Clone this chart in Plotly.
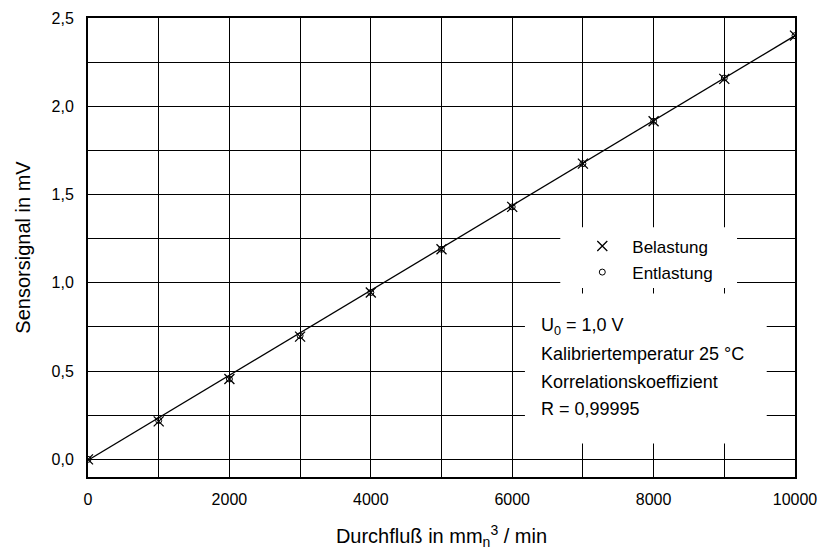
import plotly.graph_objects as go

flow = [0, 1000, 2000, 3000, 4000, 5000, 6000, 7000, 8000, 9000, 10000]
belastung = [0.0, 0.215, 0.455, 0.695, 0.945, 1.19, 1.43, 1.675, 1.915, 2.155, 2.40]
entlastung = [0.0, 0.22, 0.455, 0.70, 0.945, 1.19, 1.43, 1.675, 1.915, 2.16, 2.40]
fit_x = [0, 10000]
fit_y = [-0.005, 2.40]

x_ticks = [0, 2000, 4000, 6000, 8000, 10000]
x_ticktext = ["0", "2000", "4000", "6000", "8000", "10000"]
y_ticks = [0.0, 0.5, 1.0, 1.5, 2.0, 2.5]
y_ticktext = ["0,0", "0,5", "1,0", "1,5", "2,0", "2,5"]

info_lines = ["U<sub>0</sub> = 1,0 V", "Kalibriertemperatur 25 °C",
              "Korrelationskoeffizient", "R = 0,99995"]

FONT = "Liberation Sans, Arial, sans-serif"

fig = go.Figure()
fig.add_trace(go.Scatter(x=fit_x, y=fit_y, mode="lines",
                         line=dict(color="black", width=1.3), showlegend=False))
fig.add_trace(go.Scatter(x=flow, y=belastung, mode="markers", name="Belastung",
                         legendgroup="a",
                         marker=dict(symbol="x-thin", size=10, color="black",
                                     line=dict(color="black", width=1.3))))
fig.add_trace(go.Scatter(x=flow, y=entlastung, mode="markers", name="Entlastung",
                         legendgroup="b",
                         marker=dict(symbol="circle-open", size=6, color="black",
                                     line=dict(color="black", width=1))))

# white boxes behind legend and text
fig.add_shape(type="rect", xref="x", yref="y", x0=6680, x1=9180, y0=0.97, y1=1.315,
              fillcolor="white", line=dict(width=0), layer="between")
fig.add_shape(type="rect", xref="x", yref="y", x0=6180, x1=9600, y0=0.09, y1=0.94,
              fillcolor="white", line=dict(width=0), layer="between")

ys = [0.75, 0.595, 0.44, 0.285]
for t, yv in zip(info_lines, ys):
    fig.add_annotation(x=6380, y=yv, xref="x", yref="y", text=t, showarrow=False,
                       xanchor="left", yanchor="middle",
                       font=dict(family=FONT, size=18, color="black"))

fig.update_layout(
    width=819, height=559,
    margin=dict(l=88, r=24, t=18, b=82, autoexpand=False),
    paper_bgcolor="white", plot_bgcolor="white",
    font=dict(family=FONT, size=16, color="black"),
    legend=dict(x=0.685, y=0.474, xref="paper", yref="paper",
                xanchor="left", yanchor="middle", itemwidth=50,
                bgcolor="rgba(0,0,0,0)", font=dict(family=FONT, size=17),
                traceorder="grouped", tracegroupgap=1),
    xaxis=dict(range=[0, 10000], tickvals=x_ticks, ticktext=x_ticktext,
               automargin=False,
               showgrid=True, gridcolor="black", gridwidth=1,
               minor=dict(dtick=1000, tick0=0, showgrid=True, gridcolor="black", gridwidth=1),
               zeroline=False, showline=True, linecolor="black", linewidth=2, mirror=True,
               ticks="", ticklabelstandoff=7,
               tickfont=dict(family=FONT, size=16),
               title=dict(text="Durchfluß in mm<sub>n</sub><sup>3</sup> / min",
                          font=dict(family=FONT, size=20), standoff=22)),
    yaxis=dict(range=[-0.1, 2.5], tickvals=y_ticks, ticktext=y_ticktext,
               automargin=False,
               showgrid=True, gridcolor="black", gridwidth=1,
               minor=dict(dtick=0.25, tick0=0, showgrid=True, gridcolor="black", gridwidth=1),
               zeroline=False, showline=True, linecolor="black", linewidth=2, mirror=True,
               ticks="", ticklabelstandoff=9,
               tickfont=dict(family=FONT, size=16),
               title=dict(text="Sensorsignal in mV", font=dict(family=FONT, size=20),
                          standoff=16)),
)

fig.write_html("out.html")
